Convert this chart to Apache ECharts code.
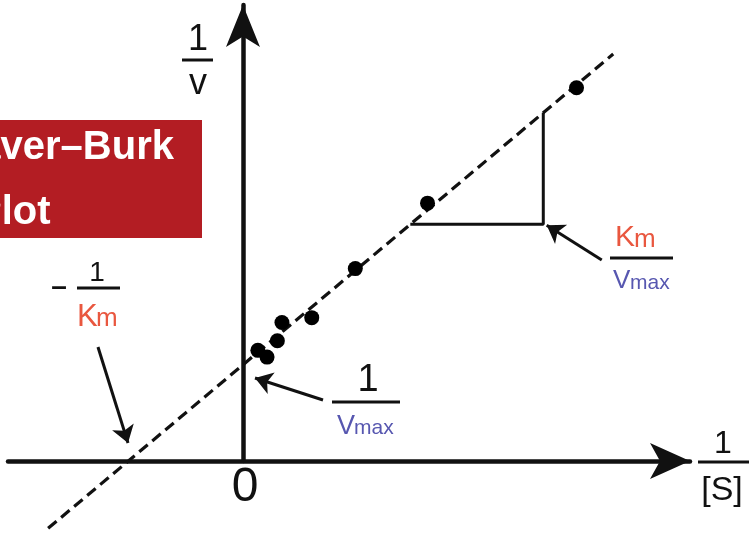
<!DOCTYPE html>
<html>
<head>
<meta charset="utf-8">
<script src="https://cdn.jsdelivr.net/npm/echarts@6/dist/echarts.min.js"></script>
<style>
  html, body { margin: 0; padding: 0; background: #fff; }
  #chart { width: 749px; height: 534px; }
</style>
</head>
<body>
<div id="chart"></div>
<script>
// Lineweaver–Burk plot: 1/v against 1/[S] (arbitrary units, Km = 1, Vmax = 1)
const pointsX = [0.13, 0.21, 0.30, 0.34, 0.60, 0.98, 1.61, 2.91];
const pointsY = [1.15, 1.08, 1.25, 1.44, 1.49, 2.00, 2.68, 3.88];

// dashed fitted line, extended through both intercepts
const fitX = [-1.70, 3.23];
const fitY = [-0.70, 4.23];

// slope triangle (rise over run = Km / Vmax)
const slopeX = [1.46, 2.62, 2.62];
const slopeY = [2.46, 2.46, 3.62];

// pointer arrows: [tailX, tailY, headX, headY]
const arrowKm = [-1.265, 1.185, -1.003, 0.187];
const arrowIntercept = [0.698, 0.634, 0.105, 0.863];
const arrowSlope = [3.13, 2.09, 2.65, 2.45];

const INK = '#111';
const KM_COLOR = '#e9573f';
const VMAX_COLOR = '#5757b0';
const FONT = '"Liberation Sans", Arial, sans-serif';

const pairs = (xs, ys) => xs.map((x, i) => [x, ys[i]]);
const arrow = a => ({ coords: [[a[0], a[1]], [a[2], a[3]]] });

function text(str, x, y, size, fill, align, weight) {
  return {
    type: 'text',
    z: 20,
    style: {
      text: str, x: x, y: y,
      font: (weight || 'normal') + ' ' + size + 'px ' + FONT,
      fill: fill || INK,
      align: align || 'center',
      verticalAlign: 'middle'
    }
  };
}
function bar(x, y, w) {
  return { type: 'rect', z: 20, shape: { x: x, y: y - 1.5, width: w, height: 3 }, style: { fill: INK } };
}

const chart = echarts.init(document.getElementById('chart'));

chart.setOption({
  animation: false,
  backgroundColor: '#fff',
  grid: { left: 8, right: 59, top: 5, bottom: 73, containLabel: false, outerBoundsMode: 'none' },
  xAxis: {
    type: 'value',
    min: -2.05,
    max: 3.90,
    splitLine: { show: false },
    axisTick: { show: false },
    axisLabel: { show: false },
    axisLine: {
      onZero: true,
      symbol: ['none', 'arrow'],
      symbolSize: [27, 40],
      lineStyle: { color: INK, width: 4.5 }
    }
  },
  yAxis: {
    type: 'value',
    min: 0,
    max: 4.74,
    splitLine: { show: false },
    axisTick: { show: false },
    axisLabel: { show: false },
    axisLine: {
      onZero: true,
      symbol: ['none', 'arrow'],
      symbolSize: [25.5, 42],
      lineStyle: { color: INK, width: 4.5 }
    }
  },
  series: [
    {
      name: 'fit',
      type: 'line',
      data: pairs(fitX, fitY),
      symbol: 'none',
      clip: false,
      lineStyle: { color: INK, width: 3.2, type: [11, 6] },
      z: 2
    },
    {
      name: 'slope',
      type: 'line',
      data: pairs(slopeX, slopeY),
      symbol: 'none',
      lineStyle: { color: INK, width: 3 },
      z: 2
    },
    {
      name: 'measurements',
      type: 'scatter',
      data: pairs(pointsX, pointsY),
      symbolSize: 15,
      itemStyle: { color: '#000', opacity: 1 },
      z: 5
    },
    {
      name: 'pointers',
      type: 'lines',
      coordinateSystem: 'cartesian2d',
      symbol: ['none', 'arrow'],
      symbolSize: [10, 17],
      lineStyle: { color: INK, width: 3, opacity: 1, curveness: 0 },
      data: [arrow(arrowKm), arrow(arrowIntercept), arrow(arrowSlope)],
      z: 6
    }
  ],
  graphic: [
    // title panel
    { type: 'rect', z: 15, shape: { x: -10, y: 120, width: 212, height: 118 }, style: { fill: '#b31d23' } },
    text('Lineweaver–Burk', 174, 148, 40, '#fff', 'right', 'bold'),
    text('Plot', -25, 213, 40, '#fff', 'left', 'bold'),

    // origin
    text('0', 245, 487.5, 48),

    // y axis name: 1 / v
    text('1', 198, 40, 36),
    bar(182, 60, 31),
    text('v', 198, 84.5, 36),

    // x axis name: 1 / [S]
    text('1', 723, 444, 32),
    bar(698, 462, 51),
    text('[S]', 722, 491, 34),

    // x intercept: -1 / Km
    text('–', 59, 287, 28, INK, 'center', 'bold'),
    text('1', 97, 273, 28),
    bar(77, 288, 43),
    text('K', 77, 317, 31, KM_COLOR, 'left'),
    text('m', 96, 319, 26, KM_COLOR, 'left'),

    // y intercept: 1 / Vmax
    text('1', 368, 381, 38),
    bar(332, 402, 68),
    text('V', 337, 426.6, 27, VMAX_COLOR, 'left'),
    text('max', 354, 428.7, 21, VMAX_COLOR, 'left'),

    // slope: Km / Vmax
    text('K', 615, 238, 30, KM_COLOR, 'left'),
    text('m', 634, 240, 26, KM_COLOR, 'left'),
    bar(610, 258, 63),
    text('V', 613, 281, 26, VMAX_COLOR, 'left'),
    text('max', 630, 283.7, 21, VMAX_COLOR, 'left')
  ]
});
</script>
</body>
</html>
